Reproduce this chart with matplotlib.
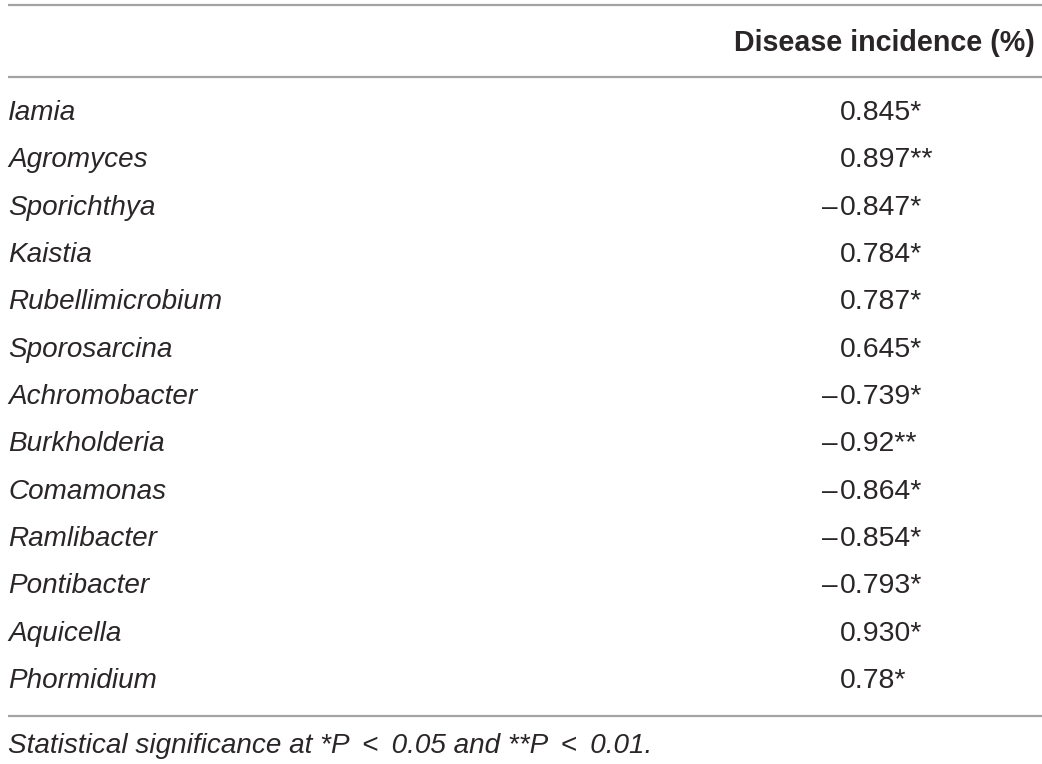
import matplotlib
matplotlib.use("Agg")
import matplotlib.pyplot as plt

genera = [
    "Iamia", "Agromyces", "Sporichthya", "Kaistia", "Rubellimicrobium",
    "Sporosarcina", "Achromobacter", "Burkholderia", "Comamonas",
    "Ramlibacter", "Pontibacter", "Aquicella", "Phormidium",
]
# correlation with disease incidence, kept as printed
corr = ["0.845", "0.897", "-0.847", "0.784", "0.787", "0.645", "-0.739",
        "-0.92", "-0.864", "-0.854", "-0.793", "0.930", "0.78"]
stars = ["*", "**", "*", "*", "*", "*", "*", "**", "*", "*", "*", "*", "*"]

header = "Disease incidence (%)"
footnote = ("Statistical significance at *P \u2009< \u20090.05 "
            "and **P \u2009< \u20090.01.")

plt.rcParams["font.family"] = ["Liberation Sans", "DejaVu Sans"]
txt_color = "#2a2627"
line_color = "#a3a3a3"
fs = 20.1

fig = plt.figure(figsize=(10.42, 7.64), dpi=100)
ax = fig.add_axes([0, 0, 1, 1])
ax.set_xlim(0, 1042)
ax.set_ylim(764, 0)
ax.axis("off")

# rules
ax.hlines([5, 77, 716], 8, 1042, color=line_color, lw=1.6)

ax.text(1035, 43, header, ha="right", va="center", fontsize=20.6,
        fontweight="bold", color=txt_color)

row0, step = 113, 47.33
num_x = 840
for i, (g, v, s) in enumerate(zip(genera, corr, stars)):
    y = row0 + i * step
    ax.text(8, y, g, ha="left", va="center", fontsize=fs,
            style="italic", color=txt_color)
    if v.startswith("-"):
        ax.text(num_x - 2, y, "\u2013", ha="right", va="center",
                fontsize=fs, color=txt_color)
        v = v[1:]
    ax.text(num_x, y, v + s, ha="left", va="center", fontsize=20.4,
            color=txt_color)

ax.text(8, 746, footnote, ha="left", va="center", fontsize=fs,
        style="italic", color=txt_color)

fig.savefig("out.png", dpi=100)
